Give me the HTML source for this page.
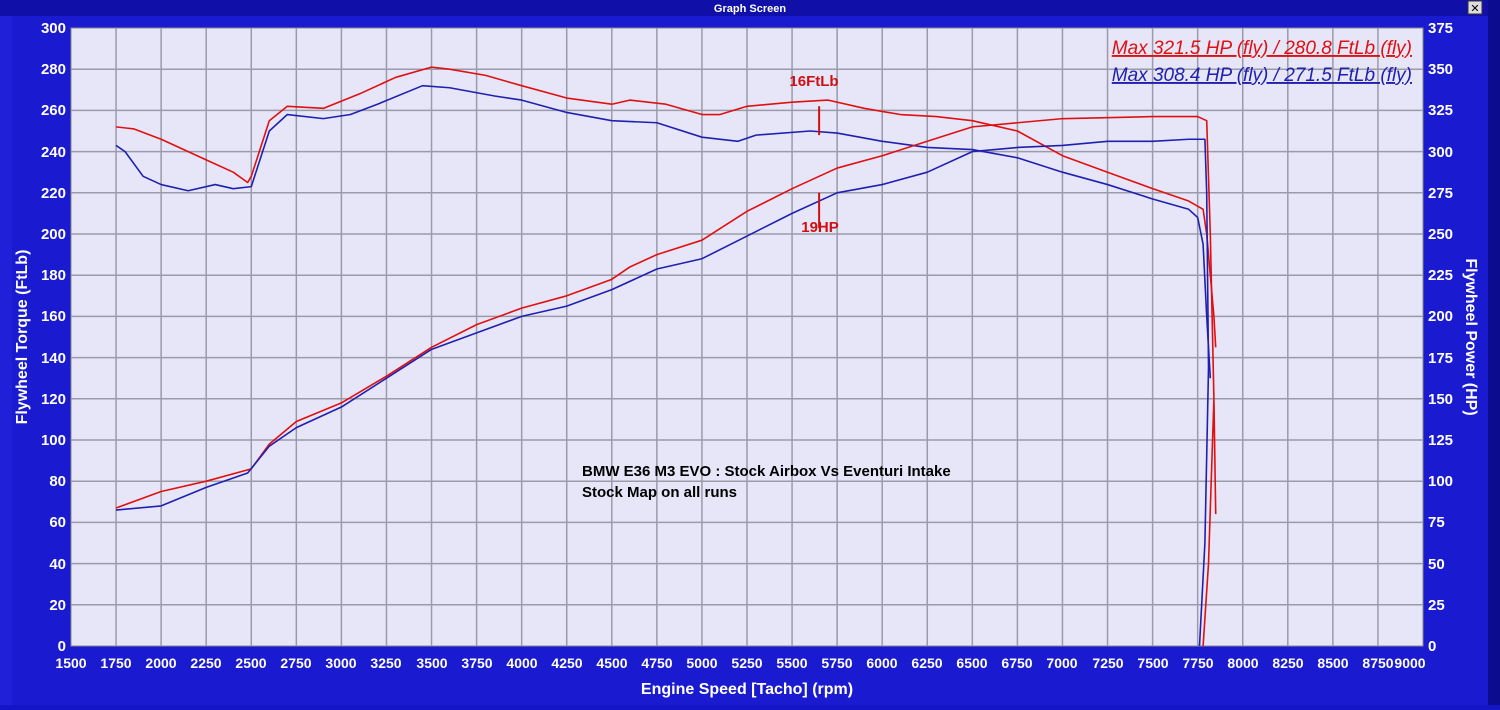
<!DOCTYPE html><html><head><style>body{margin:0;width:1500px;height:705px;overflow:hidden;background:#1515c8}</style></head><body>
<svg width="1500" height="705" xmlns="http://www.w3.org/2000/svg" font-family="Liberation Sans, sans-serif">
<rect width="1500" height="705" fill="#1a1ad0"/>
<rect width="1500" height="16" fill="#1010a8"/>
<rect x="1488" y="0" width="12" height="705" fill="#0c0c90"/>
<rect x="0" y="16" width="12" height="689" fill="#2020d8"/>
<text x="750" y="12" fill="#fff" font-size="11" font-weight="bold" text-anchor="middle">Graph Screen</text>
<rect x="1468" y="1" width="14" height="13" fill="#ddd" stroke="#333"/>
<text x="1475" y="12" font-size="11" text-anchor="middle">✕</text>
<rect x="71" y="28" width="1352" height="618" fill="#e6e6f8" stroke="#888"/>
<path stroke="#9a9aa8" stroke-width="1.5" fill="none" d="M116.07 28V646M161.13 28V646M206.2 28V646M251.27 28V646M296.33 28V646M341.4 28V646M386.47 28V646M431.53 28V646M476.6 28V646M521.67 28V646M566.73 28V646M611.8 28V646M656.87 28V646M701.93 28V646M747 28V646M792.07 28V646M837.13 28V646M882.2 28V646M927.27 28V646M972.33 28V646M1017.4 28V646M1062.47 28V646M1107.53 28V646M1152.6 28V646M1197.67 28V646M1242.73 28V646M1287.8 28V646M1332.87 28V646M1377.93 28V646M71 604.8H1423M71 563.6H1423M71 522.4H1423M71 481.2H1423M71 440H1423M71 398.8H1423M71 357.6H1423M71 316.4H1423M71 275.2H1423M71 234H1423M71 192.8H1423M71 151.6H1423M71 110.4H1423M71 69.2H1423"/>
<g fill="#fff" font-size="14" font-weight="bold" text-anchor="middle">
<text x="71" y="668">1500</text><text x="116" y="668">1750</text><text x="161" y="668">2000</text><text x="206" y="668">2250</text><text x="251" y="668">2500</text><text x="296" y="668">2750</text><text x="341" y="668">3000</text><text x="386" y="668">3250</text><text x="432" y="668">3500</text><text x="477" y="668">3750</text><text x="522" y="668">4000</text><text x="567" y="668">4250</text><text x="612" y="668">4500</text><text x="657" y="668">4750</text><text x="702" y="668">5000</text><text x="747" y="668">5250</text><text x="792" y="668">5500</text><text x="837" y="668">5750</text><text x="882" y="668">6000</text><text x="927" y="668">6250</text><text x="972" y="668">6500</text><text x="1017" y="668">6750</text><text x="1062" y="668">7000</text><text x="1108" y="668">7250</text><text x="1153" y="668">7500</text><text x="1198" y="668">7750</text><text x="1243" y="668">8000</text><text x="1288" y="668">8250</text><text x="1333" y="668">8500</text><text x="1378" y="668">8750</text><text x="1410" y="668">9000</text>
</g>
<g fill="#fff" font-size="15" font-weight="bold" text-anchor="end">
<text x="66" y="651">0</text><text x="66" y="610">20</text><text x="66" y="569">40</text><text x="66" y="527">60</text><text x="66" y="486">80</text><text x="66" y="445">100</text><text x="66" y="404">120</text><text x="66" y="363">140</text><text x="66" y="321">160</text><text x="66" y="280">180</text><text x="66" y="239">200</text><text x="66" y="198">220</text><text x="66" y="157">240</text><text x="66" y="115">260</text><text x="66" y="74">280</text><text x="66" y="33">300</text>
</g>
<g fill="#fff" font-size="15" font-weight="bold">
<text x="1428" y="651">0</text><text x="1428" y="610">25</text><text x="1428" y="569">50</text><text x="1428" y="527">75</text><text x="1428" y="486">100</text><text x="1428" y="445">125</text><text x="1428" y="404">150</text><text x="1428" y="363">175</text><text x="1428" y="321">200</text><text x="1428" y="280">225</text><text x="1428" y="239">250</text><text x="1428" y="198">275</text><text x="1428" y="157">300</text><text x="1428" y="115">325</text><text x="1428" y="74">350</text><text x="1428" y="33">375</text>
</g>
<text x="747" y="694" fill="#fff" font-size="16" font-weight="bold" text-anchor="middle">Engine Speed [Tacho] (rpm)</text>
<text transform="translate(27,337) rotate(-90)" fill="#fff" font-size="16" font-weight="bold" text-anchor="middle">Flywheel Torque (FtLb)</text>
<text transform="translate(1466,337) rotate(90)" fill="#fff" font-size="16" font-weight="bold" text-anchor="middle">Flywheel Power (HP)</text>
<g transform="matrix(0.18027 0 0 -2.06 -199.4 646)" fill="none" stroke-width="1.6" stroke-linejoin="round">
<path vector-effect="non-scaling-stroke" stroke="#e01010" d="M1750 252L1850 251L2000 246L2250 236L2400 230L2480 225L2500 228L2600 255L2700 262L2900 261L3100 268L3300 276L3500 281L3600 280L3800 277L4000 272L4250 266L4500 263L4600 265L4800 263L5000 258L5100 258L5250 262L5500 264L5700 265L5900 261L6100 258L6300 257L6500 255L6750 250L7000 238L7250 230L7500 222L7700 216L7780 212L7800 200L7820 180L7840 160L7850 145"/>
<path vector-effect="non-scaling-stroke" stroke="#2020b0" d="M1750 243L1800 240L1900 228L2000 224L2150 221L2300 224L2400 222L2500 223L2600 250L2700 258L2900 256L3050 258L3200 263L3450 272L3600 271L3850 267L4000 265L4250 259L4500 255L4750 254L5000 247L5200 245L5300 248L5600 250L5750 249L6000 245L6250 242L6500 241L6750 237L7000 230L7250 224L7500 217L7700 212L7750 208L7780 195L7800 160L7820 130"/>
<path vector-effect="non-scaling-stroke" stroke="#e01010" d="M1750 67L2000 75L2250 80L2500 86L2600 98L2750 109L3000 118L3250 131L3500 145L3750 156L4000 164L4250 170L4500 178L4600 184L4750 190L5000 197L5250 211L5500 222L5750 232L6000 238L6250 245L6500 252L6750 254L7000 256L7500 257L7750 257L7800 255L7820 200L7840 120L7850 64M7840 120L7810 40L7780 0"/>
<path vector-effect="non-scaling-stroke" stroke="#2020b0" d="M1750 66L2000 68L2250 77L2480 84L2600 97L2750 106L3000 116L3250 130L3500 144L3750 152L4000 160L4250 165L4500 173L4750 183L5000 188L5250 199L5500 210L5750 220L6000 224L6250 230L6500 240L6750 242L7000 243L7250 245L7500 245L7700 246L7790 246L7800 220L7810 135L7790 50L7760 0"/>
<path vector-effect="non-scaling-stroke" stroke="#d01010" stroke-width="2" d="M5650 262L5650 248M5650 220L5650 203"/>
</g>
<text x="1412" y="54" fill="#e01010" font-size="19" font-style="italic" text-anchor="end" text-decoration="underline">Max 321.5 HP (fly) / 280.8 FtLb (fly)</text>
<text x="1412" y="81" fill="#2020b0" font-size="19" font-style="italic" text-anchor="end" text-decoration="underline">Max 308.4 HP (fly) / 271.5 FtLb (fly)</text>
<text x="814" y="86" fill="#d01010" font-size="15" font-weight="bold" text-anchor="middle">16FtLb</text>
<text x="820" y="232" fill="#d01010" font-size="15" font-weight="bold" text-anchor="middle">19HP</text>
<text x="582" y="476" fill="#000" font-size="15" font-weight="bold">BMW E36 M3 EVO : Stock Airbox Vs Eventuri Intake</text>
<text x="582" y="497" fill="#000" font-size="15" font-weight="bold">Stock Map on all runs</text>
</svg></body></html>
